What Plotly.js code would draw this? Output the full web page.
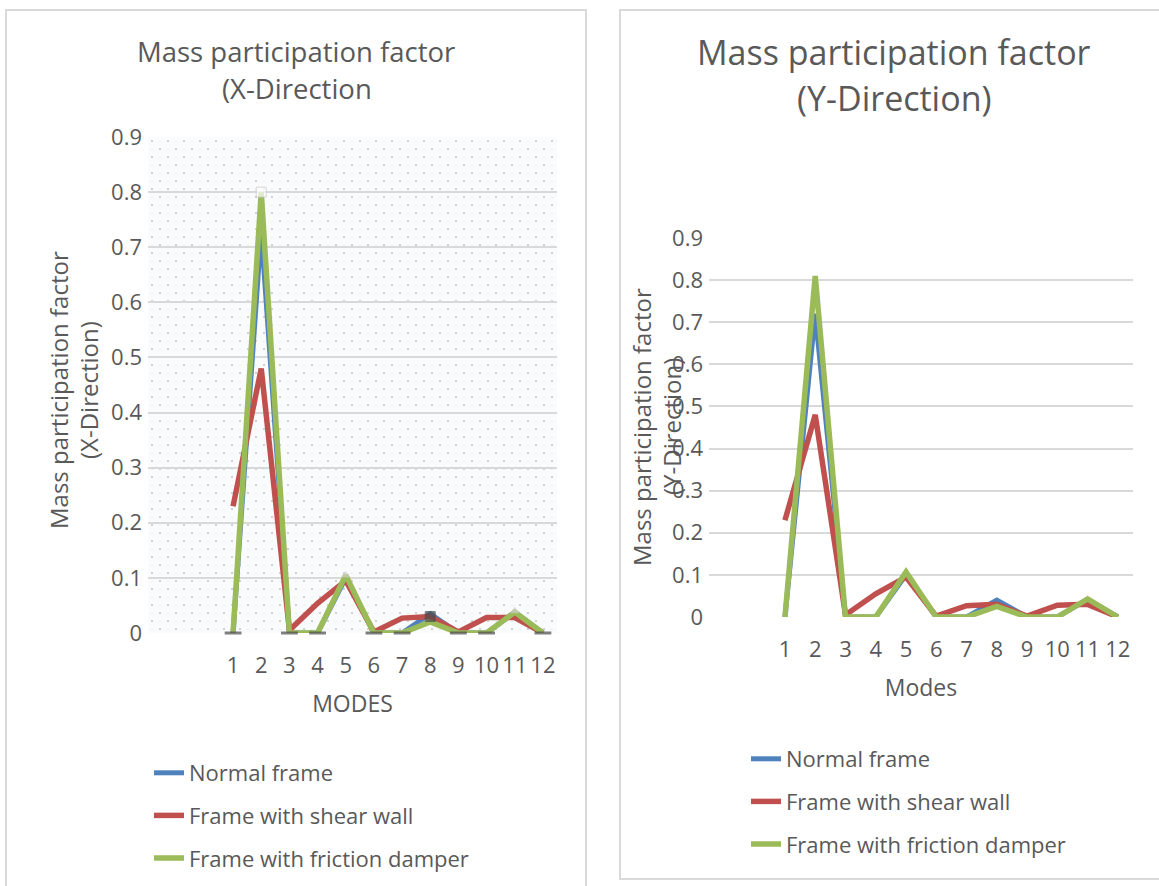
<!DOCTYPE html>
<html>
<head>
<meta charset="utf-8">
<script src="https://cdn.plot.ly/plotly-3.0.1.min.js"></script>
<style>
  html, body { margin: 0; padding: 0; background: #ffffff; }
  #chart { width: 1159px; height: 886px; }
</style>
</head>
<body>
<div id="chart"></div>
<script>
// ---------- data ----------
const modes = [1, 2, 3, 4, 5, 6, 7, 8, 9, 10, 11, 12];
const modeLabels = ['1', '2', '3', '4', '5', '6', '7', '8', '9', '10', '11', '12'];
const seriesNames = ['Normal frame', 'Frame with shear wall', 'Frame with friction damper'];

// X-Direction
const xNormal = [0, 0.73, 0, 0, 0.10, 0, 0, 0.035, 0, 0, 0.038, 0];
const xShear  = [0.23, 0.48, 0.005, 0.054, 0.095, 0.002, 0.027, 0.030, 0.002, 0.028, 0.028, 0];
const xDamper = [0, 0.80, 0, 0, 0.105, 0, 0, 0.020, 0, 0, 0.038, 0];
// marker points visible in the X-Direction chart
const xMarkerVals = [0, 0.80, 0, 0, 0.105, 0, 0, 0.030, 0, 0, 0.040, 0];

// Y-Direction
const yNormal = [0, 0.72, 0, 0, 0.10, 0, 0, 0.040, 0, 0, 0.042, 0];
const yShear  = [0.23, 0.48, 0.005, 0.055, 0.095, 0.002, 0.027, 0.030, 0.002, 0.028, 0.030, 0];
const yDamper = [0, 0.81, 0, 0, 0.107, 0, 0, 0.025, 0, 0, 0.043, 0];

const yTicks = [0, 0.1, 0.2, 0.3, 0.4, 0.5, 0.6, 0.7, 0.8, 0.9];
const yTickText = ['0', '0.1', '0.2', '0.3', '0.4', '0.5', '0.6', '0.7', '0.8', '0.9'];

// ---------- styles ----------
const W = 1159, H = 886;
const colors = ['#4F81BD', '#C0504D', '#9BBB59'];
const txt = '#595959';
const FONT = '"Open Sans", "DejaVu Sans", sans-serif';

function px(x) { return x / W; }
function py(y) { return 1 - y / H; }

// plot areas (pixels)
const L = { x0: 148, x1: 557, y0: 137, y1: 633 };
const R = { x0: 709, x1: 1133, y0: 238, y1: 617 };

const traces = [];
const xSets = [xNormal, xShear, xDamper];
const ySets = [yNormal, yShear, yDamper];
const widths = [5, 5.5, 5.5];

xSets.forEach((vals, i) => {
  traces.push({
    type: 'scatter', mode: 'lines', x: modes, y: vals, name: seriesNames[i],
    xaxis: 'x', yaxis: 'y', legend: 'legend', legendgroup: 'L' + i,
    line: { color: colors[i], width: widths[i], shape: 'linear' },
    hoverinfo: 'x+y+name'
  });
});
// marker artifacts
traces.push({
  type: 'scatter', mode: 'markers', x: modes, y: xMarkerVals, showlegend: false,
  xaxis: 'x', yaxis: 'y', cliponaxis: false, hoverinfo: 'skip',
  marker: {
    symbol: xMarkerVals.map((v, i) => (v === 0 ? 'line-ew' : (i === 4 || i === 10 ? 'triangle-up' : 'square'))),
    size: xMarkerVals.map((v, i) => (v === 0 ? 12 : (i === 4 || i === 10 ? 7 : 10))),
    color: xMarkerVals.map((v, i) => (i === 1 ? '#ffffff' : (i === 4 || i === 10 ? '#d0d0d0' : '#4a4a4a'))),
    line: {
      color: xMarkerVals.map((v, i) => (v === 0 ? '#4a4a4a' : (i === 1 ? '#c8c8c8' : (i === 4 || i === 10 ? '#d0d0d0' : '#4a4a4a')))),
      width: xMarkerVals.map(v => (v === 0 ? 3 : 1))
    }
  }
});

ySets.forEach((vals, i) => {
  traces.push({
    type: 'scatter', mode: 'lines', x: modes, y: vals, name: seriesNames[i],
    xaxis: 'x2', yaxis: 'y2', legend: 'legend2', legendgroup: 'R' + i,
    line: { color: colors[i], width: widths[i], shape: 'linear' },
    hoverinfo: 'x+y+name'
  });
});

// dotted pattern background for left chart
const pw = L.x1 - L.x0, ph = L.y1 - L.y0;
const svg = "<svg xmlns='http://www.w3.org/2000/svg' width='" + pw + "' height='" + ph + "'>" +
  "<defs><pattern id='p' width='16' height='16' patternUnits='userSpaceOnUse'>" +
  "<rect width='16' height='16' fill='#fafbfc'/>" +
  "<circle cx='4' cy='4' r='1' fill='#c2c2c2'/>" +
  "<circle cx='12' cy='12' r='1' fill='#c2c2c2'/>" +
  "<rect x='10.5' y='4' width='3' height='0.8' fill='#ebebeb'/>" +
  "<rect x='2.5' y='12' width='3' height='0.8' fill='#ebebeb'/>" +
  "</pattern></defs><rect width='100%' height='100%' fill='url(#p)'/></svg>";
const svgUri = 'data:image/svg+xml;charset=utf-8,' + encodeURIComponent(svg);

function yAxis(domain, anchor) {
  return {
    domain: domain, anchor: anchor, range: [0, 0.9], fixedrange: true,
    tickvals: yTicks, ticktext: yTickText,
    showgrid: true, gridcolor: '#d9d9d9', gridwidth: 2,
    zeroline: false, showline: false, ticks: '',
    tickfont: { family: FONT, size: 22, color: txt }, ticklabelstandoff: 5
  };
}
function xAxis(domain, anchor, range, titleText) {
  return {
    domain: domain, anchor: anchor, range: range, fixedrange: true,
    tickvals: modes, ticktext: modeLabels,
    showgrid: false, zeroline: false, showline: false, ticks: '',
    tickfont: { family: FONT, size: 22, color: txt }, ticklabelstandoff: 17,
    title: { text: titleText, font: { family: FONT, size: 23, color: txt }, standoff: 17 }
  };
}

const layout = {
  width: W, height: H,
  margin: { l: 0, r: 0, t: 0, b: 0 },
  paper_bgcolor: '#ffffff', plot_bgcolor: 'rgba(0,0,0,0)',
  font: { family: FONT, color: txt },
  xaxis: xAxis([px(L.x0), px(L.x1)], 'y', [-2.02, 12.5], 'MODES'),
  yaxis: yAxis([py(L.y1), py(L.y0)], 'x'),
  xaxis2: xAxis([px(R.x0), px(R.x1)], 'y2', [-1.51, 12.5], 'Modes'),
  yaxis2: yAxis([py(R.y1), py(R.y0)], 'x2'),
  images: [{
    source: svgUri, xref: 'paper', yref: 'paper',
    x: px(L.x0), y: py(L.y0), sizex: px(L.x1) - px(L.x0), sizey: py(L.y0) - py(L.y1),
    xanchor: 'left', yanchor: 'top', sizing: 'stretch', layer: 'below'
  }],
  shapes: [
    { type: 'rect', xref: 'paper', yref: 'paper', x0: px(6), x1: px(586), y0: -0.05, y1: py(10),
      line: { color: '#d9d9d9', width: 2 }, fillcolor: 'rgba(0,0,0,0)', layer: 'below' },
    { type: 'rect', xref: 'paper', yref: 'paper', x0: px(620), x1: 1.05, y0: py(879), y1: py(10),
      line: { color: '#d9d9d9', width: 2 }, fillcolor: 'rgba(0,0,0,0)', layer: 'below' }
  ],
  annotations: [
    { text: 'Mass participation factor', xref: 'paper', yref: 'paper', x: px(296), y: py(51),
      xanchor: 'center', yanchor: 'middle', showarrow: false, font: { family: FONT, size: 27.5, color: txt } },
    { text: '(X-Direction', xref: 'paper', yref: 'paper', x: px(297), y: py(89),
      xanchor: 'center', yanchor: 'middle', showarrow: false, font: { family: FONT, size: 27.5, color: txt } },
    { text: 'Mass participation factor', xref: 'paper', yref: 'paper', x: px(894), y: py(52),
      xanchor: 'center', yanchor: 'middle', showarrow: false, font: { family: FONT, size: 34, color: txt } },
    { text: '(Y-Direction)', xref: 'paper', yref: 'paper', x: px(894), y: py(98),
      xanchor: 'center', yanchor: 'middle', showarrow: false, font: { family: FONT, size: 34, color: txt } },
    { text: 'Mass participation factor', xref: 'paper', yref: 'paper', x: px(58), y: py(390),
      xanchor: 'center', yanchor: 'middle', textangle: -90, showarrow: false, font: { family: FONT, size: 24, color: txt } },
    { text: '(X-Direction)', xref: 'paper', yref: 'paper', x: px(88), y: py(390),
      xanchor: 'center', yanchor: 'middle', textangle: -90, showarrow: false, font: { family: FONT, size: 24, color: txt } },
    { text: 'Mass participation factor', xref: 'paper', yref: 'paper', x: px(641), y: py(427),
      xanchor: 'center', yanchor: 'middle', textangle: -90, showarrow: false, font: { family: FONT, size: 24, color: txt } },
    { text: '(Y-Direction)', xref: 'paper', yref: 'paper', x: px(671), y: py(427),
      xanchor: 'center', yanchor: 'middle', textangle: -90, showarrow: false, font: { family: FONT, size: 24, color: txt } }
  ],
  legend: {
    x: px(149), y: py(752), xanchor: 'left', yanchor: 'top', orientation: 'v',
    bgcolor: 'rgba(0,0,0,0)', font: { family: FONT, size: 22, color: txt },
    tracegroupgap: 11, traceorder: 'grouped', itemwidth: 30
  },
  legend2: {
    x: px(746), y: py(738), xanchor: 'left', yanchor: 'top', orientation: 'v',
    bgcolor: 'rgba(0,0,0,0)', font: { family: FONT, size: 22, color: txt },
    tracegroupgap: 11, traceorder: 'grouped', itemwidth: 30
  },
  showlegend: true
};

Plotly.newPlot('chart', traces, layout, { displayModeBar: false, staticPlot: true });
</script>
</body>
</html>
